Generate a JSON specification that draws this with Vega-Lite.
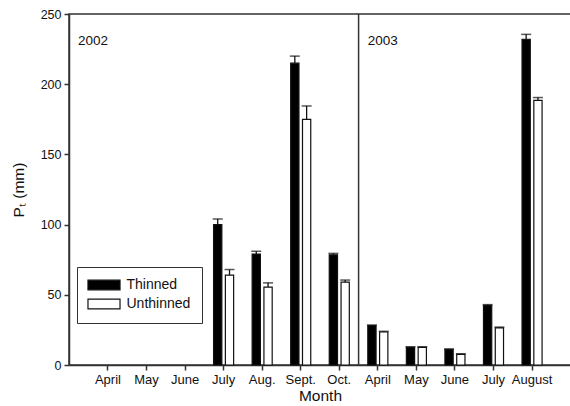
{
  "$schema": "https://vega.github.io/schema/vega-lite/v6.json",
  "width": 502,
  "height": 351,
  "autosize": "none",
  "padding": {"left": 69, "top": 14, "right": 0, "bottom": 41},
  "background": "white",
  "config": {
    "font": "Liberation Sans",
    "view": {"stroke": "#333", "strokeWidth": 1.5},
    "axis": {"domainColor": "#333", "domainWidth": 1.5, "tickColor": "#333", "tickWidth": 1.5, "tickSize": 5, "labelColor": "#111", "titleColor": "#111", "grid": false, "labelPadding": 3, "titleFontWeight": "normal"}
  },
  "datasets": {
    "bars": [
      {"key": "2002|July", "treatment": "Thinned", "pt": 100, "upper": 104},
      {"key": "2002|July", "treatment": "Unthinned", "pt": 64, "upper": 68},
      {"key": "2002|Aug.", "treatment": "Thinned", "pt": 79, "upper": 81},
      {"key": "2002|Aug.", "treatment": "Unthinned", "pt": 55.5, "upper": 58.5},
      {"key": "2002|Sept.", "treatment": "Thinned", "pt": 215, "upper": 220},
      {"key": "2002|Sept.", "treatment": "Unthinned", "pt": 175, "upper": 184.5},
      {"key": "2002|Oct.", "treatment": "Thinned", "pt": 78.5, "upper": 79.5},
      {"key": "2002|Oct.", "treatment": "Unthinned", "pt": 59, "upper": 60.5},
      {"key": "2003|April", "treatment": "Thinned", "pt": 28, "upper": 28.5},
      {"key": "2003|April", "treatment": "Unthinned", "pt": 23.5, "upper": 24},
      {"key": "2003|May", "treatment": "Thinned", "pt": 12.5, "upper": 13},
      {"key": "2003|May", "treatment": "Unthinned", "pt": 12.5, "upper": 13},
      {"key": "2003|June", "treatment": "Thinned", "pt": 11, "upper": 11.5},
      {"key": "2003|June", "treatment": "Unthinned", "pt": 7.5, "upper": 8},
      {"key": "2003|July", "treatment": "Thinned", "pt": 42.5, "upper": 43},
      {"key": "2003|July", "treatment": "Unthinned", "pt": 26.5, "upper": 27},
      {"key": "2003|August", "treatment": "Thinned", "pt": 232, "upper": 235.5},
      {"key": "2003|August", "treatment": "Unthinned", "pt": 188.5, "upper": 190.5}
    ],
    "years": [
      {"year": "2002", "first": "2002|April"},
      {"year": "2003", "first": "2003|April"}
    ]
  },
  "layer": [
    {
      "data": {"name": "bars"},
      "mark": {"type": "bar", "stroke": "#111", "strokeWidth": 1.2, "opacity": 1},
      "encoding": {
        "x": {
          "field": "key", "type": "nominal",
          "scale": {
            "domain": ["2002|April", "2002|May", "2002|June", "2002|July", "2002|Aug.", "2002|Sept.", "2002|Oct.", "2003|April", "2003|May", "2003|June", "2003|July", "2003|August"],
            "paddingInner": 0.48, "paddingOuter": 0.75
          },
          "axis": {"title": "Month", "bandPosition": 0.5, "labelExpr": "split(datum.value, '|')[1]", "labelAngle": 0, "labelFontSize": 13, "titleFontSize": 15.5, "titlePadding": 2}
        },
        "xOffset": {"field": "treatment", "type": "nominal", "scale": {"domain": ["Thinned", "Unthinned"], "paddingInner": 0.3, "paddingOuter": 0}},
        "y": {
          "field": "pt", "type": "quantitative",
          "scale": {"domain": [0, 250], "nice": false},
          "axis": {"title": "Pₜ (mm)", "values": [0, 50, 100, 150, 200, 250], "labelFontSize": 12.5, "titleFontSize": 15.5, "titlePadding": 14}
        },
        "fill": {
          "field": "treatment", "type": "nominal",
          "scale": {"domain": ["Thinned", "Unthinned"], "range": ["#000000", "#ffffff"]},
          "legend": {
            "title": null, "orient": "none", "legendX": 8, "legendY": 253,
            "strokeColor": "#333", "fillColor": "white", "padding": 11,
            "symbolType": "M-3,-0.9H3V0.9H-3Z", "symbolSize": 114, "symbolOffset": 9, "symbolStrokeColor": "#111", "symbolStrokeWidth": 1.2,
            "labelFontSize": 14, "labelOffset": 15.5, "labelColor": "#111", "rowPadding": 3
          }
        }
      }
    },
    {
      "data": {"name": "bars"},
      "mark": {"type": "rule", "color": "#111", "strokeWidth": 1.3},
      "encoding": {
        "x": {"field": "key", "type": "nominal"},
        "xOffset": {"field": "treatment", "type": "nominal"},
        "y": {"field": "pt", "type": "quantitative"},
        "y2": {"field": "upper"}
      }
    },
    {
      "data": {"name": "bars"},
      "mark": {"type": "tick", "color": "#111", "thickness": 1.5, "size": 10, "orient": "horizontal"},
      "encoding": {
        "x": {"field": "key", "type": "nominal"},
        "xOffset": {"field": "treatment", "type": "nominal"},
        "y": {"field": "upper", "type": "quantitative"}
      }
    },
    {
      "data": {"values": [{"first": "2003|April"}]},
      "mark": {"type": "rule", "color": "#333", "strokeWidth": 1.5},
      "encoding": {
        "x": {"field": "first", "type": "nominal", "bandPosition": -0.46}
      }
    },
    {
      "data": {"name": "years"},
      "transform": [{"filter": "datum.year == '2002'"}],
      "mark": {"type": "text", "align": "left", "baseline": "middle", "fontSize": 13.5, "dx": -20, "color": "#111"},
      "encoding": {
        "x": {"field": "first", "type": "nominal", "bandPosition": 0},
        "y": {"datum": 231, "type": "quantitative"},
        "text": {"field": "year"}
      }
    },
    {
      "data": {"name": "years"},
      "transform": [{"filter": "datum.year == '2003'"}],
      "mark": {"type": "text", "align": "left", "baseline": "middle", "fontSize": 13.5, "dx": 0, "color": "#111"},
      "encoding": {
        "x": {"field": "first", "type": "nominal", "bandPosition": 0},
        "y": {"datum": 231, "type": "quantitative"},
        "text": {"field": "year"}
      }
    }
  ]
}
